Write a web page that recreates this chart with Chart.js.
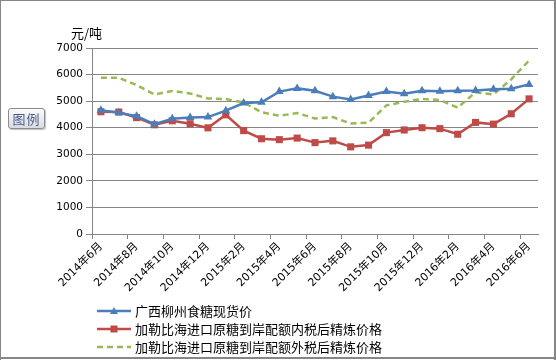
<!DOCTYPE html>
<html>
<head>
<meta charset="utf-8">
<script src="https://cdn.jsdelivr.net/npm/chart.js@4.4.1/dist/chart.umd.min.js"></script>
<style>
  html, body { margin: 0; padding: 0; background: #fff; }
  #wrap { position: relative; width: 556px; height: 360px; }
  #c { position: absolute; left: 0; top: 0; }
  #legendBtn {
    position: absolute; left: 8px; top: 108px; width: 35px; height: 19px;
    border: 1px solid #8c8c8c; border-radius: 3px;
    background: linear-gradient(#fbfbfb, #d9dbe0);
    box-shadow: 1px 1px 1px rgba(0,0,0,0.25);
    font: 13px "Noto Sans CJK SC", sans-serif; color: #4a5d8a;
    text-align: center; line-height: 19px; letter-spacing: 1px;
  }
</style>
</head>
<body>
<div id="wrap">
  <canvas id="c" width="556" height="360"></canvas>
  <div id="legendBtn">图例</div>
</div>
<script>
const categories = [
  "2014年6月","2014年7月","2014年8月","2014年9月","2014年10月","2014年11月","2014年12月",
  "2015年1月","2015年2月","2015年3月","2015年4月","2015年5月","2015年6月","2015年7月",
  "2015年8月","2015年9月","2015年10月","2015年11月","2015年12月",
  "2016年1月","2016年2月","2016年3月","2016年4月","2016年5月","2016年6月"
];
const seriesNames = [
  "广西柳州食糖现货价",
  "加勒比海进口原糖到岸配额内税后精炼价格",
  "加勒比海进口原糖到岸配额外税后精炼价格"
];
const guangxiSpot = [4660,4560,4430,4130,4340,4380,4400,4640,4930,4960,5360,5480,5390,5170,5060,5210,5360,5280,5390,5370,5390,5400,5450,5470,5630];
const inQuota     = [4600,4590,4380,4110,4260,4150,3995,4485,3890,3585,3550,3610,3440,3505,3280,3345,3815,3915,4000,3965,3755,4200,4135,4525,5085];
const outQuota    = [5880,5880,5605,5250,5385,5290,5100,5080,4950,4585,4450,4550,4345,4400,4155,4190,4840,4980,5080,5045,4755,5335,5255,5820,6530];
const yTicks = [0,1000,2000,3000,4000,5000,6000,7000];
const yUnit = "元/吨";

const BLUE = "#4A7EBB", RED = "#BE4B48", GREEN = "#98B954", GRID = "#868686";

const overlay = {
  id: "overlay",
  afterDraw(chart) {
    const ctx = chart.ctx;
    ctx.save();
    // unit label
    ctx.fillStyle = "#000";
    ctx.font = '13px "Noto Sans CJK SC", sans-serif';
    ctx.textBaseline = "middle";
    ctx.textAlign = "left";
    ctx.fillText(yUnit, 71, 33);
    // legend
    const rows = [311, 329, 347];
    chart.data.datasets.forEach((ds, i) => {
      const y = rows[i];
      ctx.beginPath();
      ctx.strokeStyle = ds.borderColor;
      ctx.lineWidth = 2.5;
      ctx.setLineDash(ds.borderDash || []);
      ctx.moveTo(97, y); ctx.lineTo(131, y);
      ctx.stroke();
      ctx.setLineDash([]);
      ctx.fillStyle = ds.borderColor;
      if (ds.pointStyle === "triangle") {
        ctx.beginPath();
        ctx.moveTo(114, y - 4); ctx.lineTo(118, y + 3); ctx.lineTo(110, y + 3); ctx.closePath(); ctx.fill();
      } else if (ds.pointStyle === "rect") {
        ctx.fillRect(110.5, y - 3.5, 7, 7);
      }
      ctx.fillStyle = "#000";
      ctx.font = '13px "Noto Sans CJK SC", sans-serif';
      ctx.fillText(ds.label, 135, y + 0.5);
    });
    // frame
    ctx.fillStyle = GRID;
    ctx.fillRect(0, 0, 556, 1);
    ctx.fillRect(0, 0, 1, 360);
    ctx.fillRect(554, 0, 2, 360);
    ctx.fillRect(0, 357, 556, 2);
    ctx.restore();
  }
};

new Chart(document.getElementById("c"), {
  type: "line",
  data: {
    labels: categories,
    datasets: [
      { label: seriesNames[0], data: guangxiSpot, borderColor: BLUE, backgroundColor: BLUE,
        borderWidth: 2.5, pointStyle: "triangle", pointRadius: 5, pointBorderWidth: 0, tension: 0 },
      { label: seriesNames[1], data: inQuota, borderColor: RED, backgroundColor: RED,
        borderWidth: 2.5, pointStyle: "rect", pointRadius: 5, pointBorderWidth: 0, tension: 0 },
      { label: seriesNames[2], data: outQuota, borderColor: GREEN, backgroundColor: GREEN,
        borderWidth: 2.5, borderDash: [6, 4], pointRadius: 0, pointStyle: false, tension: 0 }
    ]
  },
  options: {
    responsive: false,
    animation: false,
    layout: { padding: { top: 48, right: 18, left: 0, bottom: 0 } },
    plugins: { legend: { display: false }, tooltip: { enabled: false } },
    scales: {
      x: {
        offset: true,
        grid: {
          offset: true, drawOnChartArea: false, drawTicks: true, tickLength: 5,
          tickColor: (c) => (c.index !== undefined && c.index % 2 === 0) ? GRID : "rgba(0,0,0,0)"
        },
        border: { color: GRID, width: 1 },
        ticks: {
          autoSkip: false, minRotation: 45, maxRotation: 45, padding: 1,
          color: "#000",
          font: { family: '"DejaVu Sans", "Noto Sans CJK SC", sans-serif', size: 11 },
          callback: function (v, i) { return i % 2 === 0 ? categories[i] : ""; }
        },
        afterFit(scale) { scale.height = 126; }
      },
      y: {
        min: 0, max: 7000,
        afterBuildTicks(scale) { scale.ticks = yTicks.map(v => ({ value: v })); },
        grid: { color: GRID, lineWidth: 1, tickLength: 6, drawTicks: true },
        border: { color: GRID, width: 1 },
        ticks: {
          padding: 3, color: "#000",
          font: { family: '"DejaVu Sans", sans-serif', size: 10.5 },
          callback: (v) => String(v)
        },
        afterFit(scale) { scale.width = 92; }
      }
    }
  },
  plugins: [overlay]
});
</script>
</body>
</html>
